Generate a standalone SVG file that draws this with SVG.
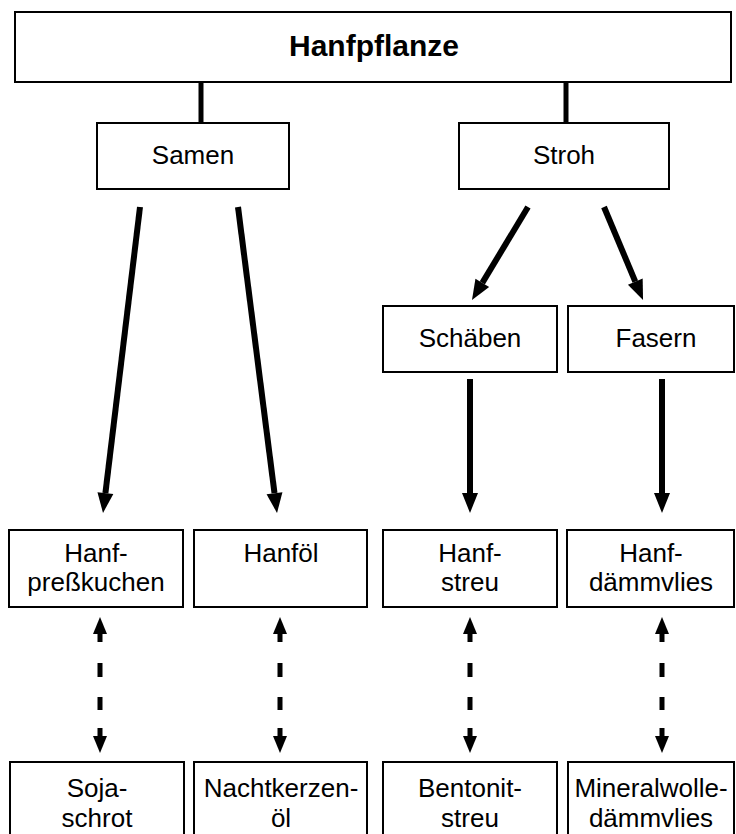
<svg xmlns="http://www.w3.org/2000/svg" width="736" height="834" viewBox="0 0 736 834">
  <style>
    .box { fill: #fff; stroke: #000; stroke-width: 2; }
    .lbl { font-family: "Liberation Sans", Arial, sans-serif; font-size: 26px; fill: #000; text-anchor: middle; }
    .title { font-family: "Liberation Sans", Arial, sans-serif; font-size: 30px; font-weight: bold; fill: #000; text-anchor: middle; }
    .bar { stroke: #000; stroke-width: 5; fill: none; }
    .flow { stroke: #000; stroke-width: 6; fill: none; marker-end: url(#head); }
    .link { stroke: #000; stroke-width: 5; fill: none; stroke-dasharray: 8 21 14 20 13 18 8; marker-start: url(#small); marker-end: url(#small); }
  </style>
  <defs>
    <marker id="head" markerUnits="userSpaceOnUse" markerWidth="20" markerHeight="16" refX="0" refY="8" orient="auto" overflow="visible">
      <path d="M0,0 L20,8 L0,16 z" fill="#000"/>
    </marker>
    <marker id="small" markerUnits="userSpaceOnUse" markerWidth="17" markerHeight="14" refX="0" refY="7" orient="auto-start-reverse" overflow="visible">
      <path d="M0,0 L17,7 L0,14 z" fill="#000"/>
    </marker>
  </defs>

  <g id="connectors">
    <line class="bar" x1="201" y1="82" x2="201" y2="123"/>
    <line class="bar" x1="566" y1="82" x2="566" y2="123"/>
    <line class="flow" x1="140" y1="207" x2="105.4" y2="493.1"/>
    <line class="flow" x1="238" y1="207" x2="274.5" y2="493.2"/>
    <line class="flow" x1="528" y1="207" x2="482.3" y2="282.9"/>
    <line class="flow" x1="604" y1="207" x2="635.3" y2="281.6"/>
    <line class="flow" x1="470" y1="379" x2="470" y2="493"/>
    <line class="flow" x1="662" y1="379" x2="662" y2="493"/>
    <line class="link" x1="100" y1="634" x2="100" y2="736"/>
    <line class="link" x1="280" y1="634" x2="280" y2="736"/>
    <line class="link" x1="470" y1="634" x2="470" y2="736"/>
    <line class="link" x1="662" y1="634" x2="662" y2="736"/>
  </g>

  <g id="hanfpflanze">
    <rect class="box" x="15" y="12" width="716" height="70"/>
    <text class="title" x="374" y="56">Hanfpflanze</text>
  </g>
  <g id="samen">
    <rect class="box" x="97" y="123" width="192" height="66"/>
    <text class="lbl" x="193" y="164">Samen</text>
  </g>
  <g id="stroh">
    <rect class="box" x="459" y="123" width="210" height="66"/>
    <text class="lbl" x="564" y="164">Stroh</text>
  </g>
  <g id="schaeben">
    <rect class="box" x="383" y="306" width="174" height="66"/>
    <text class="lbl" x="470" y="347">Schäben</text>
  </g>
  <g id="fasern">
    <rect class="box" x="568" y="306" width="166" height="66"/>
    <text class="lbl" x="656" y="347">Fasern</text>
  </g>

  <g id="hanfpresskuchen">
    <rect class="box" x="9" y="530" width="174" height="77"/>
    <text class="lbl" x="96" y="562">Hanf-</text>
    <text class="lbl" x="96" y="591">preßkuchen</text>
  </g>
  <g id="hanfoel">
    <rect class="box" x="194" y="530" width="173" height="77"/>
    <text class="lbl" x="281" y="562">Hanföl</text>
  </g>
  <g id="hanfstreu">
    <rect class="box" x="383" y="530" width="174" height="77"/>
    <text class="lbl" x="470" y="562">Hanf-</text>
    <text class="lbl" x="470" y="591">streu</text>
  </g>
  <g id="hanfdaemmvlies">
    <rect class="box" x="567" y="530" width="167" height="77"/>
    <text class="lbl" x="651" y="562">Hanf-</text>
    <text class="lbl" x="651" y="591">dämmvlies</text>
  </g>

  <g id="sojaschrot">
    <rect class="box" x="10" y="762" width="174" height="80"/>
    <text class="lbl" x="97" y="797">Soja-</text>
    <text class="lbl" x="97" y="827">schrot</text>
  </g>
  <g id="nachtkerzenoel">
    <rect class="box" x="194" y="762" width="173" height="80"/>
    <text class="lbl" x="281" y="797">Nachtkerzen-</text>
    <text class="lbl" x="281" y="827">öl</text>
  </g>
  <g id="bentonitstreu">
    <rect class="box" x="383" y="762" width="174" height="80"/>
    <text class="lbl" x="470" y="797">Bentonit-</text>
    <text class="lbl" x="470" y="827">streu</text>
  </g>
  <g id="mineralwolledaemmvlies">
    <rect class="box" x="568" y="762" width="166" height="80"/>
    <text class="lbl" x="651" y="797">Mineralwolle-</text>
    <text class="lbl" x="651" y="827">dämmvlies</text>
  </g>
</svg>
